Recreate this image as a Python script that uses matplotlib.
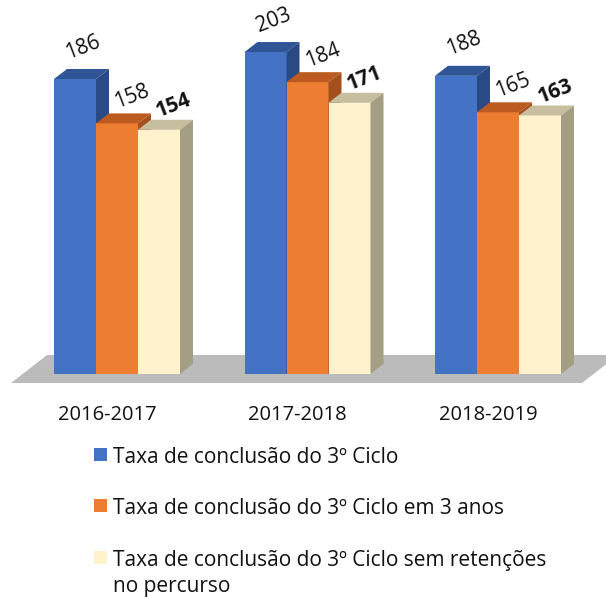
import matplotlib
matplotlib.use("Agg")
import matplotlib.pyplot as plt
from matplotlib.patches import Polygon, Rectangle
import numpy as np

plt.rcParams["font.family"] = ["Open Sans", "DejaVu Sans"]

periods = ["2016-2017", "2017-2018", "2018-2019"]
series_names = [
    "Taxa de conclusão do 3º Ciclo",
    "Taxa de conclusão do 3º Ciclo em 3 anos",
    "Taxa de conclusão do 3º Ciclo sem retenções\nno percurso",
]
ciclo_total = [186, 203, 188]
ciclo_3_anos = [158, 184, 165]
sem_retencoes = [154, 171, 163]

values = [ciclo_total, ciclo_3_anos, sem_retencoes]
front = ["#4472C4", "#ED7D31", "#FFF2CC"]
top = ["#2F5597", "#BC5B1F", "#C6BE9F"]
side = ["#2A4A85", "#A4501E", "#A49E85"]
bold = [False, False, True]
# label offsets (pixels) per series, right and up from the bar's front top
lab_dx = [8, 15, 15]
lab_dy = [32, 27, 24]

W, H = 606, 597
fig = plt.figure(figsize=(W / 100, H / 100), dpi=100)
ax = fig.add_axes([0, 0, 1, 1])
ax.set_axis_off()

# pixel geometry of the plot area
x0_px, gstep_px = 117, 190.5      # centre of first group, distance between groups
y0_px, ppu = 374, 1.586           # baseline pixel row, pixels per unit
ax.set_xlim(-x0_px / gstep_px, (W - x0_px) / gstep_px)
ax.set_ylim((y0_px - H) / ppu, y0_px / ppu)

bw = 42 / gstep_px
ddx, ddy = 13 / gstep_px, 10 / ppu
px_x, px_y = 1 / gstep_px, 1 / ppu

x = np.arange(len(periods))

# floor
fl, fr = -0.556, 2.441
floor = Polygon(
    [(fl, -9 * px_y), (fr, -9 * px_y), (fr + 36 * px_x, 19 * px_y), (fl + 36 * px_x, 19 * px_y)],
    closed=True, facecolor="#BBBBBB", edgecolor="none", zorder=1,
)
ax.add_patch(floor)

for g in range(len(periods)):
    for s in range(3):
        xc = x[g] + (s - 1) * bw
        v = values[s][g]
        bars = ax.bar([xc], [v], width=bw, color=front[s], edgecolor="none", zorder=2 + g * 10 + s * 3)
        b = bars[0]
        l, r = b.get_x(), b.get_x() + b.get_width()
        z = b.get_zorder()
        ax.add_patch(Polygon([(l, v), (r, v), (r + ddx, v + ddy), (l + ddx, v + ddy)],
                             closed=True, facecolor=top[s], edgecolor="none", zorder=z + 0.5))
        ax.add_patch(Polygon([(r, 0), (r + ddx, ddy), (r + ddx, v + ddy), (r, v)],
                             closed=True, facecolor=side[s], edgecolor="none", zorder=z + 0.5))
        ax.text(xc + lab_dx[s] * px_x, v + lab_dy[s] * px_y, str(v), rotation=21, ha="center", va="center",
                fontsize=15, fontweight="bold" if bold[s] else "normal", color="#111111",
                rotation_mode="anchor", zorder=50)

for g, p in enumerate(periods):
    ax.text(x[g] - 10 * px_x, -41 * px_y, p, ha="center", va="center", fontsize=14.5, color="#111111")

# legend drawn in pixel coordinates
def fx(px):
    return px / W

def fy(py):
    return 1 - py / H

rows = [463, 514, 566]
for s, name in enumerate(series_names):
    base = rows[s]
    fig.patches.append(Rectangle((fx(94), fy(base - 2)), 13 / W, 13 / H, transform=fig.transFigure,
                                 facecolor=front[s], edgecolor="none"))
    lines = name.split("\n")
    for i, line in enumerate(lines):
        fig.text(fx(113), fy(base + 26 * i), line, ha="left", va="baseline", fontsize=15, color="#111111")

fig.savefig("out.png", dpi=100)
